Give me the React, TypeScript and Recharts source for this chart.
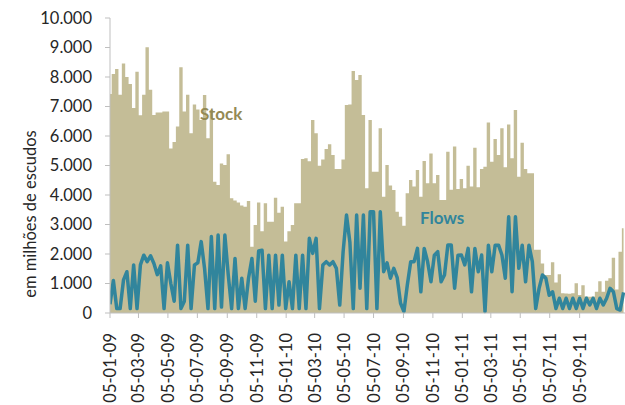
import { Area, ComposedChart, Line, XAxis, YAxis } from 'recharts';

// weekly observations starting 05-01-09
const stock = [
  7420, 8100, 8270, 7400, 8460, 8000, 7760, 6950, 8180, 6700, 7400, 9010, 7570, 6710, 6800, 6800, 6830, 6830, 5580, 5800,
  6320, 8330, 6830, 7400, 6090, 7070, 6900, 6540, 7390, 5920, 6880, 4450, 4340, 5070, 5020, 5380, 3890, 3810, 3750, 3640,
  3600, 3800, 2250, 2980, 3750, 2770, 3720, 3090, 3090, 3910, 3400, 3600, 2420, 2770, 2980, 3720, 3720, 5220, 5250, 5140,
  6540, 6090, 4990, 5200, 5560, 5720, 5360, 4880, 4880, 5200, 7050, 7070, 8200, 7900, 8070, 6710, 4230, 6540, 4790, 4790,
  6260, 3940, 5020, 4320, 4170, 3430, 3260, 2960, 4060, 4510, 4290, 4850, 3940, 5150, 4400, 5410, 4400, 4680, 3830, 3830,
  5470, 4180, 5640, 4200, 4540, 4230, 4990, 4290, 5600, 4260, 4880, 4960, 6460, 5130, 5900, 5360, 6260, 4940, 6390, 5250,
  6880, 4620, 5770, 4880, 4740, 4740, 2140, 2140, 1680, 1290, 1290, 1720, 1030, 1310, 670, 660, 650, 670, 1010, 610,
  940, 560, 550, 560, 720, 1080, 720, 1090, 1180, 1870, 800, 2080, 2870,
];

const flows = [
  300, 1100, 150, 150, 1120, 1400, 150, 1630, 150, 1630, 1960, 1740, 1940, 1680, 1300, 1600, 150, 1700, 1000, 400,
  2300, 150, 400, 2300, 150, 1630, 1700, 2420, 1500, 150, 2590, 150, 2640, 200, 2640, 1290, 150, 1850, 150, 1180,
  150, 1180, 1850, 400, 2100, 2130, 150, 1960, 150, 1960, 270, 1960, 150, 1060, 150, 1960, 150, 1960, 150, 2530,
  2020, 2530, 150, 1630, 1740, 1630, 1740, 1514, 270, 2080, 3320, 2400, 150, 3320, 840, 3320, 150, 3430, 3430, 150,
  3430, 1400, 1700, 1180, 1514, 1200, 330, 50, 950, 1740, 1740, 2190, 720, 2190, 1740, 1060, 1960, 2080, 1060, 1290,
  2305, 2305, 840, 1960, 1966, 1630, 2190, 720, 2190, 1400, 1966, 50, 2300, 1400, 2300, 2300, 1966, 1180, 3260, 720,
  3260, 1514, 2300, 1060, 2300, 1740, 150, 836, 1290, 1175, 600, 720, 150, 500, 150, 500, 150, 500, 150, 500,
  150, 500, 270, 500, 150, 500, 270, 500, 836, 720, 150, 100, 700,
];

const tickLabels = [
  '05-01-09', '05-03-09', '05-05-09', '05-07-09', '05-09-09', '05-11-09',
  '05-01-10', '05-03-10', '05-05-10', '05-07-10', '05-09-10', '05-11-10',
  '05-01-11', '05-03-11', '05-05-11', '05-07-11', '05-09-11',
];

const yTicks = [0, 1000, 2000, 3000, 4000, 5000, 6000, 7000, 8000, 9000, 10000];

const START = Date.UTC(2009, 0, 5);
const DAY = 86400000;

function labelToDay(s: string) {
  const [d, m, y] = s.split('-').map(Number);
  return (Date.UTC(2000 + y, m - 1, d) - START) / DAY;
}

function dayToLabel(day: number) {
  const dt = new Date(START + day * DAY);
  const p = (n: number) => String(n).padStart(2, '0');
  return `${p(dt.getUTCDate())}-${p(dt.getUTCMonth() + 1)}-${p(dt.getUTCFullYear() % 100)}`;
}

const data = stock.map((s, i) => ({ day: i * 7, stock: s, flows: flows[i] }));
const xTicks = tickLabels.map(labelToDay);

const fmt = (v: number) => String(v).replace(/\B(?=(\d{3})+(?!\d))/g, '.');

const FONT = 'Lato, "Open Sans", sans-serif';

function XTick(props: any) {
  const { x, y, payload } = props;
  return (
    <text
      x={x}
      y={y + 13}
      transform={`rotate(-90, ${x}, ${y + 13})`}
      textAnchor="end"
      dominantBaseline="central"
      fontFamily={FONT}
      fontSize={16.5}
      fill="#262626"
    >
      {dayToLabel(payload.value)}
    </text>
  );
}

export default function App() {
  return (
    <div style={{ position: 'absolute', left: 0, top: 0, width: 625, height: 405, background: '#fff' }}>
      <ComposedChart
        width={625}
        height={405}
        data={data}
        margin={{ top: 18, right: 0, left: 0, bottom: 0 }}
      >
        <XAxis
          dataKey="day"
          type="number"
          domain={[0, 1067]}
          ticks={xTicks}
          interval={0}
          height={92}
          tick={<XTick />}
          tickSize={5}
          axisLine={{ stroke: '#BFBFBF' }}
          tickLine={{ stroke: '#BFBFBF' }}
          allowDataOverflow
        />
        <YAxis
          domain={[0, 10000]}
          ticks={yTicks}
          interval={0}
          width={110}
          tickFormatter={fmt}
          tickSize={5}
          tickMargin={13}
          axisLine={{ stroke: '#BFBFBF' }}
          tickLine={{ stroke: '#BFBFBF' }}
          tick={{ fill: '#262626', fontSize: 16.5, fontFamily: FONT }}
        />
        <Area
          type="step"
          dataKey="stock"
          stroke="none"
          fill="#C4BD97"
          fillOpacity={1}
          isAnimationActive={false}
        />
        <Line
          type="linear"
          dataKey="flows"
          stroke="#31859C"
          strokeWidth={3.5}
          strokeLinejoin="round"
          dot={false}
          isAnimationActive={false}
        />
      </ComposedChart>
      <svg
        width={625}
        height={405}
        style={{ position: 'absolute', left: 0, top: 0, pointerEvents: 'none' }}
      >
        <text
          x={30}
          y={214}
          transform="rotate(-90, 30, 214)"
          textAnchor="middle"
          dominantBaseline="central"
          fontFamily={FONT}
          fontSize={16.5}
          fill="#262626"
        >
          em milhões de escudos
        </text>
        <text x={200} y={120} fontFamily={FONT} fontSize={17} fontWeight="bold" fill="#948A54">
          Stock
        </text>
        <text x={420} y={224} fontFamily={FONT} fontSize={17} fontWeight="bold" fill="#31859C">
          Flows
        </text>
      </svg>
    </div>
  );
}
